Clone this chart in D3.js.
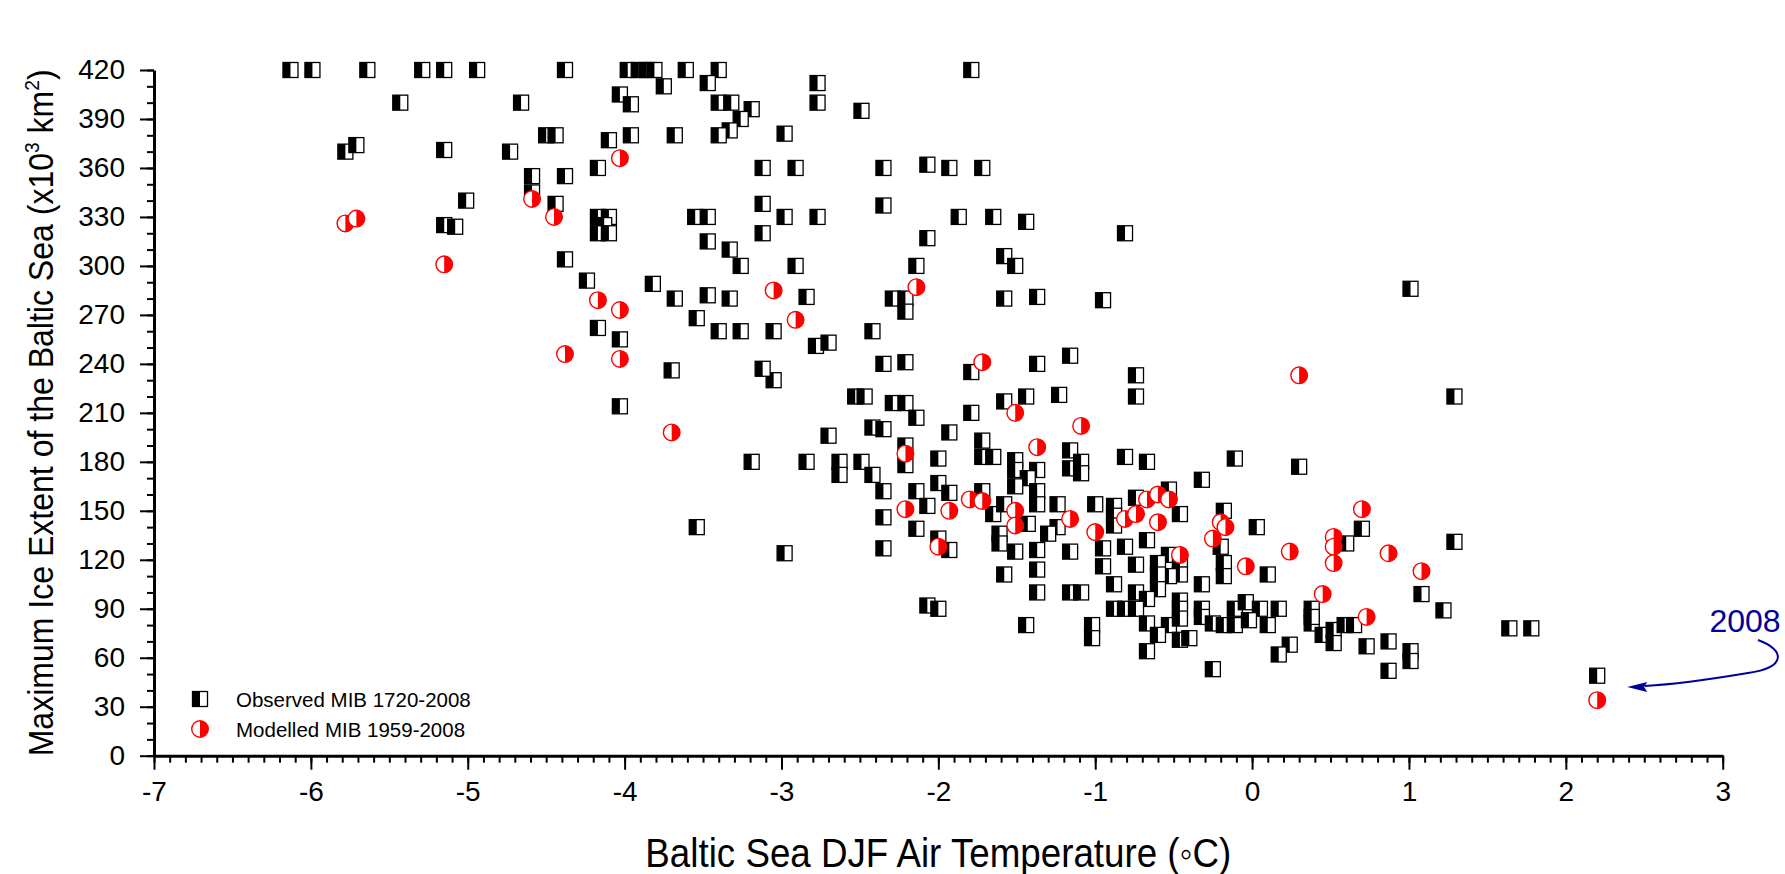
<!DOCTYPE html>
<html>
<head>
<meta charset="utf-8">
<script src="https://cdn.jsdelivr.net/npm/d3@7"></script>
<style>
  html, body { margin: 0; padding: 0; background: #fff; }
  svg { display: block; font-family: Arial, "Liberation Sans", sans-serif; }
</style>
</head>
<body>
<div id="chart"></div>
<script>
const width = 1785;
const height = 874;

const black = "#000000";
const red = "#ff0000";
const navy = "#00009c";

// tick values
const xMajor = [-7, -6, -5, -4, -3, -2, -1, 0, 1, 2, 3];
const yMajor = [0, 30, 60, 90, 120, 150, 180, 210, 240, 270, 300, 330, 360, 390, 420];

// [DJF air temperature (°C), max ice extent (10^3 km^2)]
const observedMIB = [
  [-6.13,420],[-5.99,420],[-5.64,420],[-5.29,420],[-5.15,420],[-4.94,420],
  [-5.43,400],[-4.66,400],[-4.50,380],[-4.44,380],
  [-5.78,370],[-5.71,374],[-5.15,371],[-4.73,370],[-4.59,355],[-4.59,345],
  [-5.01,340],[-4.44,338],[-5.15,325],[-5.08,324],[-4.38,304],
  [-4.38,420],[-3.98,420],[-3.91,420],[-3.86,420],[-3.81,420],[-3.61,420],[-3.40,420],
  [-3.47,412],[-3.75,410],[-2.77,412],
  [-4.03,405],[-3.96,399],[-2.77,400],[-3.40,400],[-3.32,400],
  [-3.19,396],[-2.49,395],[-3.26,390],[-3.33,383],[-3.40,380],[-4.10,377],[-3.96,380],[-3.68,380],[-2.98,381],
  [-4.17,360],[-4.38,355],[-3.12,360],[-2.91,360],[-2.35,360],[-2.07,362],[-1.93,360],
  [-4.17,330],[-4.10,330],[-4.13,325],[-4.17,320],[-4.10,320],
  [-3.55,330],[-3.47,330],[-3.12,338],[-2.98,330],[-2.77,330],[-2.35,337],
  [-3.47,315],[-3.33,310],[-3.26,300],[-3.12,320],[-2.91,300],[-2.14,300],[-2.07,317],
  [-4.24,291],[-3.82,289],[-3.68,280],[-3.47,282],[-3.33,280],[-2.84,281],[-2.29,280],[-2.21,280],[-2.21,272],
  [-3.54,268],[-4.17,262],[-4.03,255],[-3.40,260],[-3.26,260],[-3.05,260],[-2.42,260],
  [-2.78,251],[-2.70,253],
  [-3.05,230],[-3.12,237],[-3.70,236],[-2.35,240],[-2.21,241],
  [-4.03,214],[-2.53,220],[-2.47,220],[-2.29,216],[-2.21,216],
  [-1.79,420],[-1.72,360],[-1.87,330],[-1.65,330],[-1.44,327],[-0.81,320],[-1.58,306],[-1.51,300],
  [-1.58,280],[-1.37,281],[-0.95,279],[-1.79,235],[-1.37,240],[-1.16,245],[-0.74,233],
  [1.01,286],[1.29,220],
  [-3.19,180],[-2.84,180],[-3.54,140],[-2.98,124],[-2.63,180],[-2.63,172],[-2.49,180],[-2.42,172],
  [-2.14,207],[-2.42,201],[-2.35,200],[-2.70,196],[-1.93,198],[-2.21,190],[-2.21,178],[-2.00,182],
  [-2.00,167],[-1.93,161],[-2.35,162],[-2.14,162],[-2.07,153],[-2.35,146],[-2.14,139],[-2.35,127],
  [-2.00,133],[-1.93,126],[-2.07,92],[-2.00,90],
  [-1.58,217],[-1.44,220],[-1.23,221],[-0.74,220],[-1.79,210],
  [-1.72,193],[-1.72,183],[-1.65,183],[-1.51,181],[-1.51,175],[-1.37,175],[-1.43,170],[-1.51,165],
  [-1.16,187],[-1.16,176],[-1.09,180],[-1.09,173],[-0.81,183],[-0.67,180],[-0.11,182],[0.30,177],[-0.32,169],
  [-1.72,162],[-1.37,162],[-1.37,154],[-1.65,148],[-1.58,154],[-1.24,154],[-1.00,154],
  [-0.88,153],[-0.88,147],[-0.88,141],
  [-0.74,158],[-0.53,163],[-0.46,148],[-0.18,150],
  [-1.43,142],[-1.24,140],[0.03,140],[-1.30,136],[-1.61,136],[-1.61,130],[-0.67,132],
  [-1.51,125],[-1.37,126],[-1.16,125],[-0.95,127],[-0.81,128],[-0.20,128],
  [-0.53,123],[-0.46,120],[-0.95,116],[-0.74,117],[-0.60,118],[-0.18,118],
  [-1.58,111],[-1.37,114],[-0.46,111],[-0.53,110],[-0.60,111],[-0.18,110],[0.10,111],
  [-0.88,105],[-0.32,105],
  [-1.37,100],[-1.16,100],[-1.09,100],[-0.74,100],[-0.60,102],[-0.67,96],
  [-0.88,90],[-0.81,90],[-0.74,90],[-0.46,95],[-0.46,90],[-0.32,90],[-0.11,90],[-0.04,94],[0.05,90],[0.17,90],[0.38,90],
  [-1.44,80],[-1.02,80],[-1.02,72],[-0.67,81],[-0.53,80],[-0.46,84],[-0.32,85],[-0.25,81],[-0.18,80],
  [-0.11,80],[-0.02,83],[0.10,80],[0.38,81],[0.45,74],[0.52,77],[0.52,69],[0.59,80],[0.65,80],
  [-0.60,74],[-0.46,71],[-0.40,72],[0.24,68],[0.17,62],[-0.67,64],[-0.25,53],[0.38,85],
  [0.70,139],[0.60,130],[1.29,131],[1.08,99],[1.22,89],[1.64,78],[1.78,78],[0.87,70],[0.73,67],
  [1.01,64],[1.01,58],[0.87,52],[2.20,49]
];

const modelledMIB = [
  [-5.78,326],[-5.71,329],[-5.15,301],[-4.59,341],[-4.45,330],
  [-4.03,366],[-4.17,279],[-4.03,273],[-4.38,246],[-4.03,243],[-3.05,285],[-2.91,267],[-2.14,287],
  [-1.72,241],[0.30,233],
  [-3.70,198],[-2.21,185],[-2.21,151],[-1.93,150],[-2.00,128],
  [-1.51,210],[-1.09,202],[-1.37,189],[-1.80,157],[-1.72,156],[-1.51,150],[-1.51,141],[-1.16,145],
  [-1.00,137],[-0.81,145],[-0.74,148],[-0.67,157],[-0.60,160],[-0.53,157],[-0.60,143],[-0.46,123],
  [-0.20,143],[-0.17,140],[-0.25,133],[-0.04,116],[0.24,125],[0.45,99],[0.52,134],[0.52,128],[0.52,118],
  [0.70,151],[0.87,124],[1.08,113],[0.73,85],[2.20,34]
];

const seriesNames = ["Observed MIB 1720-2008", "Modelled MIB 1959-2008"];
const annotationLabel = "2008";

const svg = d3.select("#chart")
  .append("svg")
  .attr("width", width)
  .attr("height", height)
  .attr("viewBox", `0 0 ${width} ${height}`);

const x = d3.scaleLinear().domain([-7, 3]).range([154, 1722.7]);
const y = d3.scaleLinear().domain([0, 420]).range([755.7, 70]);

// --- markers ---
const sq = 15;   // square side
const cr = 8.3;  // circle radius

function squareMarker(g) {
  g.append("rect")
    .attr("x", -sq / 2).attr("y", -sq / 2)
    .attr("width", sq).attr("height", sq)
    .attr("fill", "#fff")
    .attr("stroke", black)
    .attr("stroke-width", 1.3);
  g.append("rect")
    .attr("x", -sq / 2).attr("y", -sq / 2)
    .attr("width", sq / 2).attr("height", sq)
    .attr("fill", black);
}

function circleMarker(g) {
  g.append("circle")
    .attr("r", cr)
    .attr("fill", "#fff")
    .attr("stroke", red)
    .attr("stroke-width", 1.4);
  g.append("path")
    .attr("d", `M0,${-cr}A${cr},${cr} 0 0 1 0,${cr}Z`)
    .attr("fill", red);
}

// plain hyphen for negatives, like the original
const fmt = d => String(d);

// --- axes ---
svg.append("g")
  .attr("transform", `translate(0,${y(0)})`)
  .call(d3.axisBottom(x).tickValues(xMajor).tickFormat(fmt).tickSize(14).tickSizeOuter(0).tickPadding(11));

svg.append("g")
  .attr("transform", `translate(0,${y(0)})`)
  .call(d3.axisBottom(x).tickValues(d3.range(-70, 31).map(d => d / 10)).tickSize(7).tickFormat(""))
  .call(g => g.select(".domain").remove());

svg.append("g")
  .attr("transform", `translate(${x(-7)},0)`)
  .call(d3.axisLeft(y).tickValues(yMajor).tickFormat(fmt).tickSize(14).tickSizeOuter(0).tickPadding(15));

svg.append("g")
  .attr("transform", `translate(${x(-7)},0)`)
  .call(d3.axisLeft(y).tickValues(d3.range(0, 421, 10)).tickSize(7).tickFormat(""))
  .call(g => g.select(".domain").remove());

svg.selectAll(".domain").attr("stroke", black).attr("stroke-width", 3);
svg.selectAll(".tick line").attr("stroke", black).attr("stroke-width", 2);
svg.selectAll(".tick text")
  .attr("font-family", "Arial, 'Liberation Sans', sans-serif")
  .attr("font-size", 28)
  .attr("fill", black);

// axis titles (slightly condensed, as in the original export)
svg.append("text")
  .attr("x", (x(-7) + x(3)) / 2)
  .attr("y", 867)
  .attr("text-anchor", "middle")
  .attr("font-size", 40)
  .attr("textLength", 586)
  .attr("lengthAdjust", "spacingAndGlyphs")
  .text("Baltic Sea DJF Air Temperature (\u25E6C)");

const yTitle = svg.append("text")
  .attr("transform", `translate(53,${(y(0) + y(420)) / 2}) rotate(-90)`)
  .attr("text-anchor", "middle")
  .attr("font-size", 35)
  .attr("textLength", 687)
  .attr("lengthAdjust", "spacingAndGlyphs");
yTitle.append("tspan").text("Maximum Ice Extent of the Baltic Sea (x10");
yTitle.append("tspan").attr("font-size", 21).attr("dy", -14).text("3");
yTitle.append("tspan").attr("dy", 14).text(" km");
yTitle.append("tspan").attr("font-size", 21).attr("dy", -14).text("2");
yTitle.append("tspan").attr("dy", 14).text(")");

// --- points ---
svg.append("g").selectAll("g")
  .data(observedMIB)
  .join("g")
  .attr("transform", d => `translate(${x(d[0])},${y(d[1])})`)
  .each(function() { squareMarker(d3.select(this)); });

svg.append("g").selectAll("g")
  .data(modelledMIB)
  .join("g")
  .attr("transform", d => `translate(${x(d[0])},${y(d[1])})`)
  .each(function() { circleMarker(d3.select(this)); });

// --- legend ---
const legend = svg.append("g").attr("font-size", 20.5);
const legendRows = [
  { name: seriesNames[0], draw: squareMarker, cy: 699 },
  { name: seriesNames[1], draw: circleMarker, cy: 729 }
];
legendRows.forEach(r => {
  const g = legend.append("g").attr("transform", `translate(200,${r.cy})`);
  r.draw(g);
  legend.append("text")
    .attr("x", 236)
    .attr("y", r.cy + 7.5)
    .text(r.name);
});

// --- 2008 annotation ---
const last = observedMIB[observedMIB.length - 1];
svg.append("text")
  .attr("x", 1745)
  .attr("y", 632)
  .attr("text-anchor", "middle")
  .attr("font-size", 32)
  .attr("fill", navy)
  .text(annotationLabel);

svg.append("path")
  .attr("d", "M1758,640 C1786,650 1786,668 1748,673 C1712,679 1680,684 1645,686")
  .attr("fill", "none")
  .attr("stroke", navy)
  .attr("stroke-width", 2);

const tipX = x(last[0]) + 30;
svg.append("path")
  .attr("d", `M${tipX},687 L${tipX + 20},682 L${tipX + 17},687 L${tipX + 20},692 Z`)
  .attr("fill", navy);
</script>
</body>
</html>
